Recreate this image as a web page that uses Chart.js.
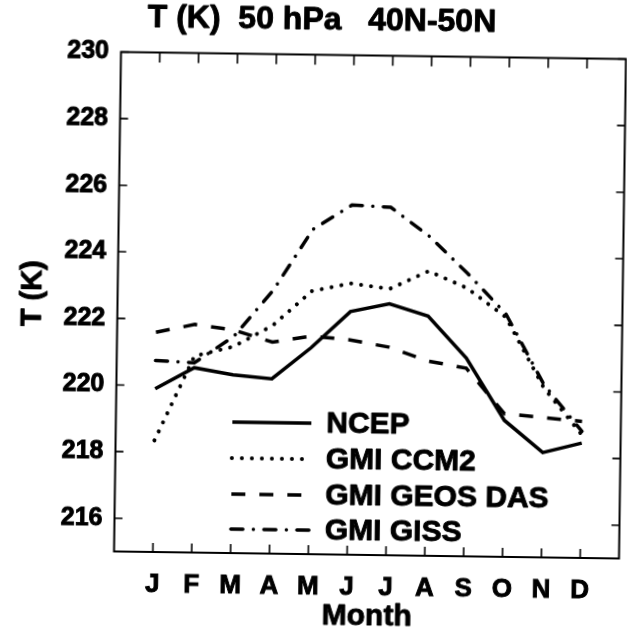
<!DOCTYPE html>
<html>
<head>
<meta charset="utf-8">
<script src="https://cdn.jsdelivr.net/npm/chart.js@4.4.1/dist/chart.umd.min.js"></script>
<style>
  html, body { margin: 0; padding: 0; background: #fff; overflow: hidden; }
  #wrap { width: 627px; height: 634px; position: relative; overflow: hidden; background: #fff; }
  /* the printed figure sits slightly turned on the page */
  #c { display: block; transform-origin: 370.5px 305px; transform: rotate(0.8deg); }
</style>
</head>
<body>
<div id="wrap"><canvas id="c" width="627" height="634"></canvas></div>
<script>
// Monthly mean temperature (K) at 50 hPa, 40N-50N
const monthLabels = ['J', 'F', 'M', 'A', 'M', 'J', 'J', 'A', 'S', 'O', 'N', 'D'];
const monthIndex  = [1, 2, 3, 4, 5, 6, 7, 8, 9, 10, 11, 12];

const ncepT = [219.9, 220.55, 220.35, 220.25, 221.2, 222.3, 222.55, 222.2, 220.95, 219.1, 218.15, 218.45];
const ccm2T = [218.35, 220.9, 221.2, 221.85, 222.9, 223.15, 223.0, 223.55, 223.05, 222.2, 220.1, 218.7];
const geosT = [221.6, 221.85, 221.7, 221.35, 221.55, 221.45, 221.25, 220.85, 220.65, 219.3, 219.2, 219.1];
const gissT = [220.75, 220.7, 221.5, 222.9, 224.75, 225.5, 225.45, 224.6, 223.5, 222.3, 220.2, 218.8];

const yTickValues = [216, 218, 220, 222, 224, 226, 228, 230];

const seriesNames = ['NCEP', 'GMI CCM2', 'GMI GEOS DAS', 'GMI GISS'];
const headingText = 'T (K)  50 hPa   40N-50N';
const xTitle = 'Month';
const yTitle = 'T (K)';

const FONT = "'Liberation Sans', Arial, sans-serif";
const INK = '#000';

function points(values) {
  return monthIndex.map((m, i) => ({ x: m, y: values[i] }));
}

// heavy print-style text: fill plus a thin outline
function boldText(ctx, text, x, y, size, align) {
  ctx.font = 'bold ' + size + 'px ' + FONT;
  ctx.textAlign = align || 'center';
  ctx.textBaseline = 'middle';
  ctx.fillStyle = INK;
  ctx.strokeStyle = INK;
  ctx.lineWidth = 0.9;
  ctx.lineJoin = 'round';
  ctx.setLineDash([]);
  ctx.fillText(text, x, y);
  ctx.strokeText(text, x, y);
}

// Boxed frame with inward tick marks on all four sides
const framePlugin = {
  id: 'frame',
  afterDatasetsDraw(chart) {
    const { ctx, chartArea: a, scales: { x, y } } = chart;
    ctx.save();
    ctx.strokeStyle = INK;
    ctx.lineWidth = 2;
    ctx.strokeRect(a.left, a.top, a.right - a.left, a.bottom - a.top);
    ctx.lineWidth = 1.6;
    ctx.beginPath();
    monthIndex.forEach(m => {
      const px = x.getPixelForValue(m);
      ctx.moveTo(px, a.bottom); ctx.lineTo(px, a.bottom - 9);
      ctx.moveTo(px, a.top);    ctx.lineTo(px, a.top + 10);
    });
    yTickValues.forEach(v => {
      const py = y.getPixelForValue(v);
      ctx.moveTo(a.left, py);  ctx.lineTo(a.left + 8, py);
      ctx.moveTo(a.right, py); ctx.lineTo(a.right - 8, py);
    });
    ctx.stroke();
    ctx.restore();
  }
};

// Heading and axis titles
const titlesPlugin = {
  id: 'titles',
  afterDraw(chart) {
    const { ctx, chartArea: a } = chart;
    ctx.save();
    boldText(ctx, headingText, 318, 21, 32);
    boldText(ctx, xTitle, (a.left + a.right) / 2 + 1, 617, 30);
    ctx.translate(33, 298);
    ctx.rotate(-Math.PI / 2);
    boldText(ctx, yTitle, 0, 0, 29);
    ctx.restore();
  }
};

// Key inside the plot, drawn with each dataset's own stroke style
const keyPlugin = {
  id: 'key',
  afterDraw(chart) {
    const { ctx } = chart;
    const rows = [424, 460, 496, 531];
    ctx.save();
    chart.data.datasets.forEach((ds, i) => {
      const yy = rows[i];
      ctx.strokeStyle = ds.borderColor;
      ctx.lineWidth = ds.borderWidth;
      ctx.lineCap = ds.borderCapStyle || 'butt';
      ctx.setLineDash(ds.borderDash || []);
      ctx.beginPath();
      ctx.moveTo(234, yy);
      ctx.lineTo(313, yy);
      ctx.stroke();
      ctx.lineCap = 'butt';
      boldText(ctx, ds.label, 328, yy + 1, 30, 'left');
    });
    ctx.restore();
  }
};

const ctx = document.getElementById('c').getContext('2d');
new Chart(ctx, {
  type: 'line',
  data: {
    datasets: [
      { label: seriesNames[0], data: points(ncepT), borderColor: INK, borderWidth: 3.5,
        borderDash: [], borderCapStyle: 'butt', borderJoinStyle: 'miter' },
      { label: seriesNames[1], data: points(ccm2T), borderColor: INK, borderWidth: 4,
        borderDash: [0.01, 10], borderCapStyle: 'round' },
      { label: seriesNames[2], data: points(geosT), borderColor: INK, borderWidth: 3.5,
        borderDash: [14, 14], borderCapStyle: 'butt' },
      { label: seriesNames[3], data: points(gissT), borderColor: INK, borderWidth: 3.5,
        borderDash: [12, 10.5, 0.01, 10.5], borderCapStyle: 'round' }
    ]
  },
  options: {
    responsive: false,
    animation: false,
    devicePixelRatio: 1,
    layout: { padding: { top: 55.5, right: 4.5, bottom: 0, left: 0 } },
    elements: { point: { radius: 0 }, line: { tension: 0, fill: false } },
    plugins: { legend: { display: false }, title: { display: false }, tooltip: { enabled: false } },
    scales: {
      x: {
        type: 'linear', min: 0, max: 13, position: 'bottom',
        afterFit(s) { s.height = 79; },
        afterBuildTicks(s) { s.ticks = monthIndex.map(v => ({ value: v })); },
        ticks: {
          autoSkip: false, maxRotation: 0, padding: 17, color: INK,
          textStrokeColor: INK, textStrokeWidth: 0.9,
          font: { family: FONT, weight: 'bold', size: 26 },
          callback: v => monthLabels[v - 1]
        },
        grid: { display: false, drawTicks: false },
        border: { display: false },
        title: { display: false }
      },
      y: {
        type: 'linear', min: 215, max: 230,
        afterFit(s) { s.width = 117.5; },
        afterBuildTicks(s) { s.ticks = yTickValues.map(v => ({ value: v })); },
        ticks: { padding: 12, color: INK, textStrokeColor: INK, textStrokeWidth: 0.9,
          font: { family: FONT, weight: 'bold', size: 25 } },
        grid: { display: false, drawTicks: false },
        border: { display: false },
        title: { display: false }
      }
    }
  },
  plugins: [framePlugin, titlesPlugin, keyPlugin]
});
</script>
</body>
</html>
